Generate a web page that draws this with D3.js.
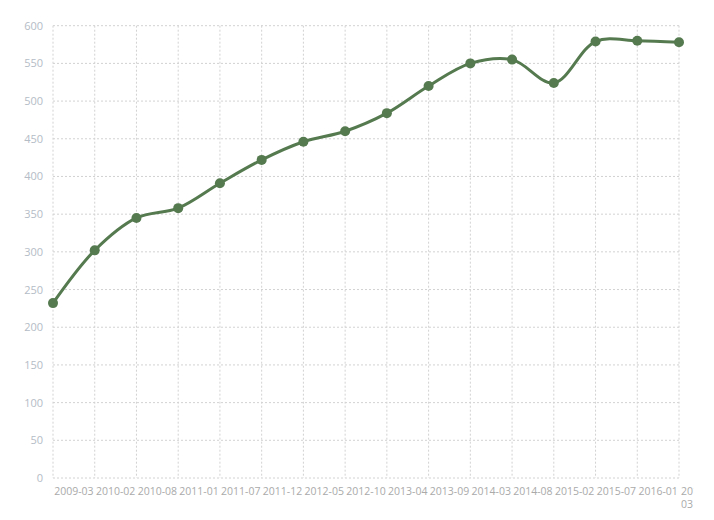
<!DOCTYPE html>
<html><head><meta charset="utf-8">
<script src="https://cdn.jsdelivr.net/npm/d3@7/dist/d3.min.js"></script>
<style>
body{margin:0;background:#fff;}
svg text{font-family:"Open Sans",sans-serif;}
</style></head>
<body><svg id="c" width="714" height="520"></svg>
<script>
const categories=["2009-03","2010-02","2010-08","2011-01","2011-07","2011-12","2012-05","2012-10","2013-04","2013-09","2014-03","2014-08","2015-02","2015-07","2016-01","2016-03"];
const values=[232,302,345,358,391,422,446,460,484,520,550,555,524,579,580,578];
const yTicks=[0,50,100,150,200,250,300,350,400,450,500,550,600];

(function(){
const svg=d3.select("#c");
const pL=53,pR=679,pT=25.7,pB=478;
const x=d3.scalePoint().domain(categories).range([pL,pR]);
const y=d3.scaleLinear().domain([0,600]).range([pB,pT]);
const step=x.step();

// grid
const g=svg.append("g");
g.selectAll("line.h").data(yTicks).join("line").attr("class","h")
 .attr("x1",pL).attr("x2",pR).attr("y1",d=>y(d)).attr("y2",d=>y(d))
 .attr("stroke","#d2d2d2").attr("stroke-width",1).attr("stroke-dasharray","2,2");
g.selectAll("line.v").data(categories).join("line").attr("class","v")
 .attr("x1",d=>x(d)).attr("x2",d=>x(d)).attr("y1",pT).attr("y2",pB)
 .attr("stroke","#d2d2d2").attr("stroke-width",1).attr("stroke-dasharray","2,2");

// y labels
svg.append("g").selectAll("text").data(yTicks).join("text")
 .attr("x",43).attr("y",d=>y(d)+4).attr("text-anchor","end")
 .attr("font-size",11).attr("fill","#b4bcc6").text(d=>d);

// x labels
const xl=svg.append("g");
categories.slice(0,-1).forEach(c=>{
  xl.append("text").attr("x",x(c)+step/2).attr("y",495).attr("text-anchor","middle")
   .attr("font-size",10.5).attr("fill","#aaaaaa").text(c);
});
const lastC=categories[categories.length-1];
svg.append("clipPath").attr("id","clipLast").append("rect").attr("x",681).attr("y",480).attr("width",13).attr("height",40);
const lt=xl.append("text").attr("clip-path","url(#clipLast)").attr("font-size",10.5).attr("fill","#aaaaaa");
lt.append("tspan").attr("x",x(lastC)+2).attr("y",495).text(lastC.slice(0,5));
lt.append("tspan").attr("x",x(lastC)+2).attr("y",508).text(lastC.slice(5));

// line
const line=d3.line().x((d,i)=>x(categories[i])).y(d=>y(d)).curve(d3.curveCatmullRom.alpha(0.5));
svg.append("path").datum(values).attr("d",line).attr("fill","none")
 .attr("stroke","#557a4f").attr("stroke-width",3);
svg.append("g").selectAll("circle").data(values).join("circle")
 .attr("cx",(d,i)=>x(categories[i])).attr("cy",d=>y(d)).attr("r",5)
 .attr("fill","#557a4f");
})();
</script></body></html>
